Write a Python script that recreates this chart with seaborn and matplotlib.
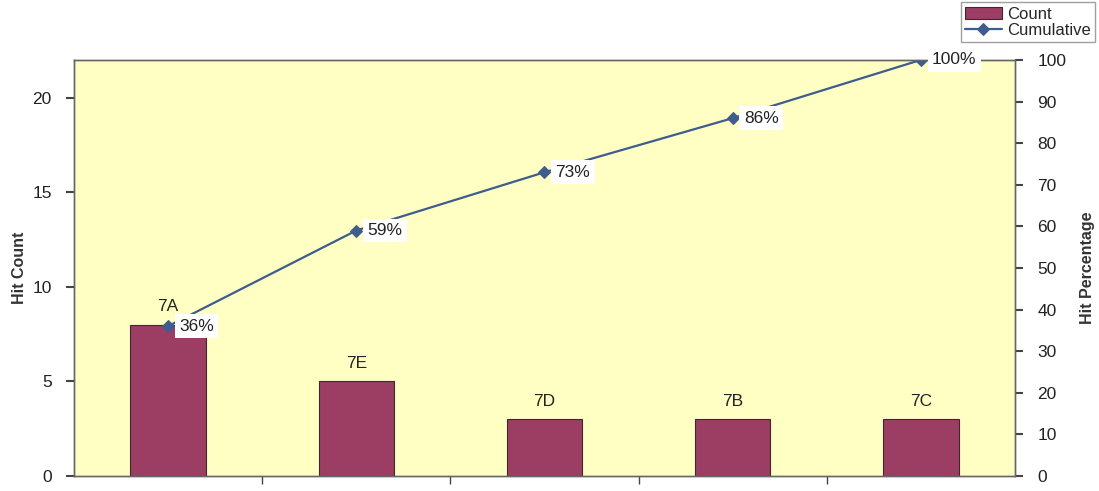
import numpy as np
import pandas as pd
import matplotlib
matplotlib.use("Agg")
import matplotlib.pyplot as plt
import seaborn as sns

# data
categories = ["7A", "7E", "7D", "7B", "7C"]
hit_counts = [8, 5, 3, 3, 3]
cumulative_pct = [36, 59, 73, 86, 100]

sns.set_style("white")
plt.rcParams["font.family"] = ["Liberation Sans", "DejaVu Sans"]

bar_color = "#9C3D64"
line_color = "#3E5C8E"
bg_color = "#FFFFC4"
tick_color = "#444444"

df = pd.DataFrame({"category": categories, "count": hit_counts})

fig = plt.figure(figsize=(10.99, 4.91), dpi=100)
ax = fig.add_axes([0.0673, 0.0305, 0.8563, 0.8475])
ax.set_facecolor(bg_color)

sns.barplot(data=df, x="category", y="count", order=categories, color=bar_color,
            saturation=1, width=0.4, edgecolor="#3a2a30", linewidth=0.8, ax=ax,
            label="Count")
if ax.get_legend() is not None:
    ax.get_legend().remove()

ax2 = ax.twinx()
sns.lineplot(x=np.arange(len(categories)), y=cumulative_pct, color=line_color,
             marker="D", markersize=6, markeredgecolor=line_color, linewidth=1.6,
             ax=ax2, label="Cumulative", legend=False)

ax.set_xlim(-0.5, len(categories) - 0.5)
ax.set_ylim(0, 22)
ax.set_yticks([0, 5, 10, 15, 20])
ax.set_xticks(np.arange(len(categories) - 1) + 0.5)
ax.set_xticklabels([])
ax.set_xlabel("")
ax.set_ylabel("Hit Count", fontsize=11.5, fontweight="bold", color="#333333")

ax2.set_ylim(0, 100)
ax2.set_yticks(np.arange(0, 101, 10))
ax2.set_ylabel("Hit Percentage", fontsize=11.5, fontweight="bold", color="#333333",
               labelpad=10)

ax.tick_params(axis="y", left=True, direction="out", length=6, width=1.5,
               color=tick_color, labelsize=12.5, labelcolor="#222222", pad=10)
ax.tick_params(axis="x", bottom=True, direction="out", length=6, width=1,
               color=tick_color)
ax2.tick_params(axis="y", right=True, direction="out", length=6, width=1.5,
                color=tick_color, labelsize=12.5, labelcolor="#222222", pad=10)

# category labels above the bars
for i, (c, v) in enumerate(zip(categories, hit_counts)):
    ax.text(i, v + 0.55, c, ha="center", va="bottom", fontsize=12.5, color="#222222")

for i, p in enumerate(cumulative_pct):
    ax2.annotate(f"{p}%", (i, p), xytext=(8, 0), textcoords="offset points",
                 ha="left", va="center", fontsize=12.5, color="#222222",
                 bbox=dict(boxstyle="square,pad=0.25", fc="white", ec="none"))

for a in (ax, ax2):
    for s in a.spines.values():
        s.set_color("#666666")
        s.set_linewidth(1.0)

h1, l1 = ax.get_legend_handles_labels()
h2, l2 = ax2.get_legend_handles_labels()
fig.legend(h1 + h2, l1 + l2, loc="upper right", bbox_to_anchor=(0.996, 0.995),
           fontsize=12, frameon=True, fancybox=False, edgecolor="#888888",
           borderpad=0.25, labelspacing=0.1, handlelength=2.2, handletextpad=0.3,
           borderaxespad=0)

fig.savefig("out.png", dpi=100, facecolor="white")
